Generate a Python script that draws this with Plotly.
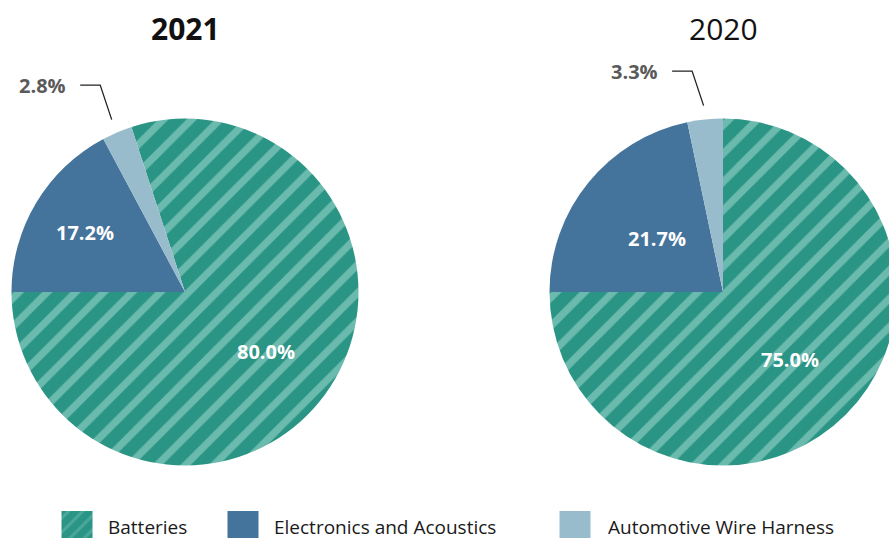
import math
import plotly.graph_objects as go

# Revenue share by business segment
years = ["2021", "2020"]
categories = ["Batteries", "Electronics and Acoustics", "Automotive Wire Harness"]
share_2021 = [80.0, 17.2, 2.8]
share_2020 = [75.0, 21.7, 3.3]
shares = [share_2021, share_2020]

W, H = 898, 539
TEAL = "#2a9485"
STRIPE = "#6bbaae"
BLUE = "#44739b"
PALE = "#98bccc"
slice_colors = [TEAL, BLUE, PALE]
FONT = "Open Sans"

R = 173.5
centers = [(185, 292), (723, 292)]
# radial placement (fraction of radius) of the inside labels: batteries, electronics
label_radius = [[0.58, 0.67], [0.55, 0.49]]

fig = go.Figure()

# hidden pixel-space axes used for labels, legend swatches and leader lines
fig.update_layout(
    xaxis=dict(range=[0, W], domain=[0, 1], visible=False, fixedrange=True),
    yaxis=dict(range=[H, 0], domain=[0, 1], visible=False, fixedrange=True),
)

shapes = []
annotations = []


def polar(cx, cy, angle_deg, radius):
    a = math.radians(angle_deg)
    return cx + radius * math.sin(a), cy - radius * math.cos(a)


for idx, (year, vals) in enumerate(zip(years, shares)):
    cx, cy = centers[idx]
    # the non-battery segments start at 9 o'clock, so the battery slice starts after them
    rot = (270 + (100 - vals[0]) * 3.6) % 360
    fig.add_trace(go.Pie(
        labels=categories,
        values=vals,
        sort=False,
        direction="clockwise",
        rotation=rot,
        domain=dict(x=[(cx - R) / W, (cx + R) / W],
                    y=[1 - (cy + R) / H, 1 - (cy - R) / H]),
        marker=dict(
            colors=slice_colors,
            line=dict(width=0),
            pattern=dict(shape=["/", "", ""], fgcolor=STRIPE, bgcolor=TEAL,
                         size=20, solidity=0.36),
        ),
        textinfo="none",
        hoverinfo="label+percent",
        showlegend=False,
    ))

    # slice mid angles, clockwise from 12 o'clock
    total = sum(vals)
    start = rot
    mids = []
    for v in vals:
        span = v / total * 360
        mids.append(start + span / 2)
        start += span

    # percentage labels inside the two large slices
    for k in range(2):
        lx, ly = polar(cx, cy, mids[k], label_radius[idx][k] * R)
        annotations.append(dict(
            x=lx, y=ly, xref="x", yref="y", text=f"{vals[k]:.1f}%",
            showarrow=False, xanchor="center", yanchor="middle",
            font=dict(family=FONT, size=20, color="white", weight="bold"),
        ))

    # title above each pie
    annotations.append(dict(
        x=cx, y=28, xref="x", yref="y", text=year, showarrow=False,
        font=dict(family=FONT, size=30, color="#111111",
                  weight="bold" if idx == 0 else "normal"),
        xanchor="center", yanchor="middle",
    ))

    # leader line and outside label for the small slice
    ex, ey = polar(cx, cy, mids[2], 1.08 * R)
    kx, ky = ex - 11.5, ey - 34.5
    hx = kx - 20
    shapes.append(dict(
        type="path", xref="x", yref="y",
        path=f"M {hx:.1f},{ky:.1f} L {kx:.1f},{ky:.1f} L {ex:.1f},{ey:.1f}",
        line=dict(color="#222222", width=1.3),
    ))
    annotations.append(dict(
        x=hx - 12, y=ky, xref="x", yref="y", text=f"{vals[2]:.1f}%",
        showarrow=False, xanchor="right", yanchor="middle",
        font=dict(family=FONT, size=20, color="#5a5a5a", weight="bold"),
    ))

# legend row
swatch_x = [77, 243, 575]
text_x = [106, 272, 606]
for i, name in enumerate(categories):
    pat = dict(shape="/", fgcolor=STRIPE, bgcolor=TEAL, size=10, solidity=0.3) if i == 0 else dict(shape="")
    fig.add_trace(go.Bar(
        x=[swatch_x[i]], y=[27], base=[511], width=[31],
        marker=dict(color=slice_colors[i], line=dict(width=0), pattern=pat),
        hoverinfo="skip", showlegend=False,
    ))
    annotations.append(dict(
        x=text_x[i], y=527, xref="x", yref="y", text=name, showarrow=False,
        xanchor="left", yanchor="middle",
        font=dict(family=FONT, size=19, color="#1a1a1a"),
    ))

fig.update_layout(
    width=W, height=H,
    margin=dict(l=0, r=0, t=0, b=0),
    paper_bgcolor="white", plot_bgcolor="white",
    font=dict(family=FONT),
    shapes=shapes, annotations=annotations,
    showlegend=False,
)

fig.write_html(
    "out.html",
    post_script="document.documentElement.style.overflow='hidden';document.body.style.overflow='hidden';",
)
